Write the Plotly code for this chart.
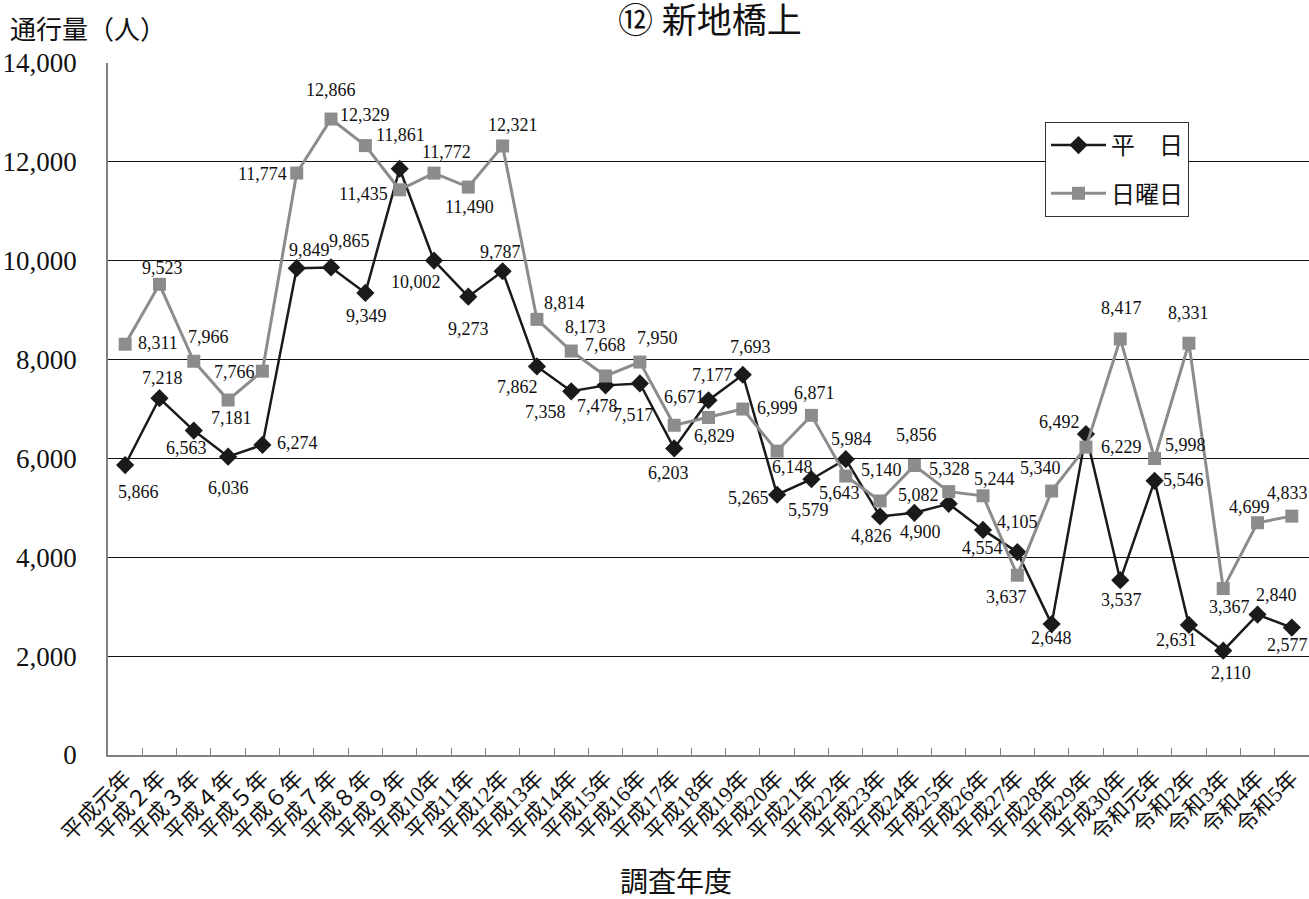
import plotly.graph_objects as go

categories = ["平成元年", "平成２年", "平成３年", "平成４年", "平成５年", "平成６年", "平成７年",
              "平成８年", "平成９年", "平成10年", "平成11年", "平成12年", "平成13年", "平成14年",
              "平成15年", "平成16年", "平成17年", "平成18年", "平成19年", "平成20年", "平成21年",
              "平成22年", "平成23年", "平成24年", "平成25年", "平成26年", "平成27年", "平成28年",
              "平成29年", "平成30年", "令和元年", "令和2年", "令和3年", "令和4年", "令和5年"]

weekday = [5866, 7218, 6563, 6036, 6274, 9849, 9865, 9349, 11861, 10002, 9273, 9787,
           7862, 7358, 7478, 7517, 6203, 7177, 7693, 5265, 5579, 5984, 4826, 4900,
           5082, 4554, 4105, 2648, 6492, 3537, 5546, 2631, 2110, 2840, 2577]

sunday = [8311, 9523, 7966, 7181, 7766, 11774, 12866, 12329, 11435, 11772, 11490, 12321,
          8814, 8173, 7668, 7950, 6671, 6829, 6999, 6148, 6871, 5643, 5140, 5856,
          5328, 5244, 3637, 5340, 6229, 8417, 5998, 8331, 3367, 4699, 4833]

y_ticks = [0, 2000, 4000, 6000, 8000, 10000, 12000, 14000]

# label offsets from each marker, in screen pixels (right, down)
weekday_dx = [13, 3, -7, 0, 35, 13, 18, 1, 1, -18, 0, -2, -19, -26, -8, -6, -6, 4,
              8, -29, -3, 6, -9, 6, -30, -1, 0, 0, -26, 1, 29, -12, 8, 19, -4]
weekday_dy = [27, -20, 17, 31, -2, -18, -26, 23, -34, 21, 32, -19, 21, 21, 21, 32, 25, -25,
              -28, 3, 31, -20, 20, 19, -9, 18, -30, 14, -12, 20, -1, 15, 22, -20, 17]
sunday_dx = [33, 3, 15, 3, -28, -34, 0, 0, -36, 13, 1, 10, 28, 14, 0, 18, 10, 6,
             35, 15, 3, -6, 1, 2, 1, 11, -11, -11, 36, 1, 31, 0, 6, -8, -4]
sunday_dy = [-1, -16, -24, 18, 1, 1, -29, -31, 4, -21, 20, -21, -16, -24, -31, -24, -28, 19,
             -1, 16, -22, 17, -31, -31, -23, -17, 22, -23, 0, -31, -14, -30, 18, -16, -23]

FONT = "Liberation Serif, Noto Sans CJK JP, serif"
BLACK = "#1a1a1a"
GRAY = "#8c8c8c"

fig = go.Figure()
fig.add_trace(go.Scatter(
    x=categories, y=weekday, name="平　日", mode="lines+markers",
    line=dict(color=BLACK, width=2.5),
    marker=dict(symbol="diamond", size=14, color=BLACK),
    legendgroup="a", cliponaxis=False,
))
fig.add_trace(go.Scatter(
    x=categories, y=sunday, name="日曜日", mode="lines+markers",
    line=dict(color=GRAY, width=3),
    marker=dict(symbol="square", size=13, color=GRAY),
    legendgroup="b", cliponaxis=False,
))

L, R, T, B = 108, 0, 63, 144
W, H = 1309, 899
pw, ph = W - L - R, H - T - B


def px_x(p):
    return (p - L) / pw


def px_y(p):
    return (H - B - p) / ph


annotations = []
for vals, dxs, dys in ((weekday, weekday_dx, weekday_dy), (sunday, sunday_dx, sunday_dy)):
    for c, v, dx, dy in zip(categories, vals, dxs, dys):
        annotations.append(dict(
            x=c, y=v, xref="x", yref="y", text=f"{v:,}", showarrow=False,
            xanchor="center", yanchor="middle", xshift=dx, yshift=-dy,
            font=dict(family=FONT, size=18, color="#111"),
        ))

annotations += [
    dict(text="通行量（人）", xref="paper", yref="paper", x=px_x(8), y=px_y(30),
         xanchor="left", yanchor="middle", showarrow=False,
         font=dict(family=FONT, size=26, color="#111")),
    dict(text="⑫ 新地橋上", xref="paper", yref="paper", x=px_x(710), y=px_y(22),
         xanchor="center", yanchor="middle", showarrow=False,
         font=dict(family=FONT, size=35, color="#111")),
    dict(text="調査年度", xref="paper", yref="paper", x=px_x(676), y=px_y(882),
         xanchor="center", yanchor="middle", showarrow=False,
         font=dict(family=FONT, size=28, color="#111")),
]

fig.update_layout(
    width=W, height=H,
    margin=dict(l=L, r=R, t=T, b=B),
    paper_bgcolor="white", plot_bgcolor="white",
    font=dict(family=FONT, color="#111"),
    showlegend=True,
    legend=dict(
        x=px_x(1045), y=px_y(122), xanchor="left", yanchor="top",
        bgcolor="white", bordercolor="#333", borderwidth=1,
        font=dict(family=FONT, size=24, color="#111"),
        traceorder="grouped", tracegroupgap=14,
        itemwidth=55,
    ),
    xaxis=dict(
        type="category", tickangle=-45, automargin=False,
        tickfont=dict(family=FONT, size=22, color="#111"),
        showline=True, linecolor="#808080", linewidth=1.5,
        ticks="inside", ticklen=7, tickcolor="#808080", tickson="boundaries",
        showgrid=False, range=[-0.5, len(categories) - 0.5],
    ),
    yaxis=dict(
        range=[0, 14000], tickvals=y_ticks, tickformat=",", automargin=False,
        tickfont=dict(family=FONT, size=27, color="#111"),
        showline=True, linecolor="#808080", linewidth=1.5,
        showgrid=True, gridcolor="#111", gridwidth=1,
        zeroline=False, ticks="", ticklabelstandoff=24,
    ),
    annotations=annotations,
)

fig.write_html("out.html", config={"displayModeBar": False},
               post_script="document.body.style.margin='0';document.body.style.overflow='hidden';")
